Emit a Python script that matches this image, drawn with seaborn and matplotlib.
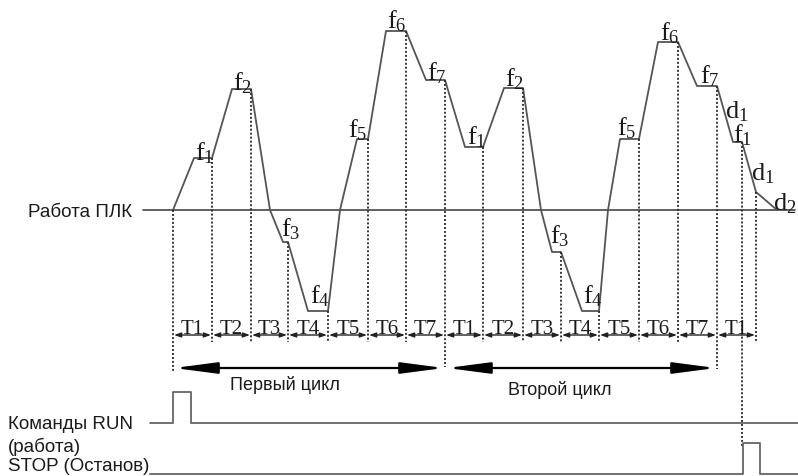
import numpy as np
import pandas as pd
import matplotlib
matplotlib.use("Agg")
import matplotlib.pyplot as plt
import seaborn as sns

sns.set_theme(style="white")
plt.rcParams["font.family"] = ["Liberation Sans", "DejaVu Sans"]
plt.rcParams["mathtext.fontset"] = "custom"
plt.rcParams["mathtext.rm"] = "Liberation Serif"
plt.rcParams["mathtext.it"] = "Liberation Serif:italic"

# Output frequency profile: time breakpoints and frequency levels (screen units, y grows downward)
t_points = [173, 194, 212, 232, 251, 270, 283, 288, 308, 328, 340, 357, 368, 386, 406,
            426, 445, 465, 483, 504, 523, 541, 552, 561, 582, 599, 608, 620, 639, 658,
            678, 697, 717, 733, 742, 756, 777]
f_points = [211, 159, 159, 90, 90, 211, 243, 243, 312, 312, 211, 140, 140, 32, 32,
            81, 81, 148, 148, 89, 89, 211, 253, 253, 312, 312, 211, 140, 140, 43,
            43, 87, 87, 143, 143, 193, 211]
zero_level = 211

# Step boundaries (end of each constant-frequency step)
step_times = [173, 212, 251, 288, 328, 368, 406, 445, 483, 523, 561, 599, 639, 678, 717, 742, 756]
step_names = ["T1", "T2", "T3", "T4", "T5", "T6", "T7",
              "T1", "T2", "T3", "T4", "T5", "T6", "T7", "T1"]
step_edges = [173, 212, 251, 288, 328, 368, 406, 445, 483, 523, 561, 599, 639, 678, 717, 756]

# Level labels
level_names = ["f_1", "f_2", "f_3", "f_4", "f_5", "f_6", "f_7",
               "f_1", "f_2", "f_3", "f_4", "f_5", "f_6", "f_7", "d_1", "f_1", "d_1", "d_2"]
level_x = [195, 233, 281, 310, 348, 387, 427, 467, 505, 550, 583, 617, 660, 700, 725, 733, 751, 773]
level_y = [160, 90, 236, 303, 137, 28, 80, 144, 86, 243, 303, 135, 40, 83, 118, 142, 180, 210]

# RUN / STOP command pulses
run_pulse_t = [150, 173, 173, 191, 191, 798]
run_pulse_v = [424, 424, 393, 393, 424, 424]
stop_pulse_t = [150, 743, 743, 760, 760, 798]
stop_pulse_v = [475, 475, 444, 444, 475, 475]

# Program cycles
cycle_names = ["Первый цикл", "Второй цикл"]
cycle_spans = [(174, 444), (447, 716)]

fig = plt.figure(figsize=(7.98, 4.77), dpi=100)
ax = fig.add_axes([0, 0, 1, 1])
ax.set_xlim(0, 798)
ax.set_ylim(477, 0)
ax.axis("off")

line_col = "#555555"
dot_col = "#2a2a2a"
txt_col = "#1a1a1a"

# zero-frequency line (PLC running)
ax.plot([143, 795], [zero_level, zero_level], color="#444444", lw=1.2)

profile = pd.DataFrame({"t": t_points, "f": f_points})
sns.lineplot(data=profile, x="t", y="f", sort=False, estimator=None,
             color=line_col, lw=1.3, ax=ax)

# dotted drop lines from each step end
drop_bottom = {173: 373, 445: 368, 717: 370, 742: 448}
for t in step_times:
    top = np.interp(t, t_points, f_points)
    bottom = drop_bottom.get(t, 343)
    ax.plot([t, t], [top, bottom], color=dot_col, lw=1.3,
            linestyle=(0, (1.1, 1.1)))

# step duration arrows
row_y = 336
for name, a, b in zip(step_names, step_edges[:-1], step_edges[1:]):
    ax.annotate("", xy=(a + 1, row_y), xytext=(b - 1, row_y),
                arrowprops=dict(arrowstyle="<|-|>,head_length=4,head_width=1.4",
                                mutation_scale=1, color="#222222", lw=1.0,
                                shrinkA=0, shrinkB=0))
    ax.text((a + b) / 2, row_y - 1.5, name, ha="center", va="baseline",
            fontsize=15, family="Liberation Serif", color=txt_col)

for name, x, y in zip(level_names, level_x, level_y):
    base, sub = name.split("_")
    ax.text(x, y, r"$\mathrm{" + base + "}_{" + sub + "}$",
            ha="left", va="baseline", fontsize=19, color=txt_col)

# cycle arrows with captions
for name, (a, b), ty, dx in zip(cycle_names, cycle_spans, [385, 390], [-24, -22]):
    ax.annotate("", xy=(a, 369), xytext=(b, 369),
                arrowprops=dict(arrowstyle="<|-|>,head_length=26,head_width=3.4",
                                mutation_scale=1, color="black", lw=1.6,
                                shrinkA=0, shrinkB=0))
    ax.text((a + b) / 2 + dx, ty, name, ha="center", va="center",
            fontsize=13, color=txt_col)

run_df = pd.DataFrame({"t": run_pulse_t, "v": run_pulse_v})
stop_df = pd.DataFrame({"t": stop_pulse_t, "v": stop_pulse_v})
sns.lineplot(data=run_df, x="t", y="v", sort=False, estimator=None, color="#666666", lw=1.3, ax=ax)
sns.lineplot(data=stop_df, x="t", y="v", sort=False, estimator=None, color="#666666", lw=1.3, ax=ax)

ax.text(28, 213, "Работа ПЛК", ha="left", va="center", fontsize=13.5, color=txt_col)
ax.text(8, 425, "Команды RUN", ha="left", va="center", fontsize=13.5, color=txt_col)
ax.text(8, 447, "(работа)", ha="left", va="center", fontsize=13.5, color=txt_col)
ax.text(8, 467, "STOP (Останов)", ha="left", va="center", fontsize=13.5, color=txt_col)

fig.savefig("out.png", dpi=100)
